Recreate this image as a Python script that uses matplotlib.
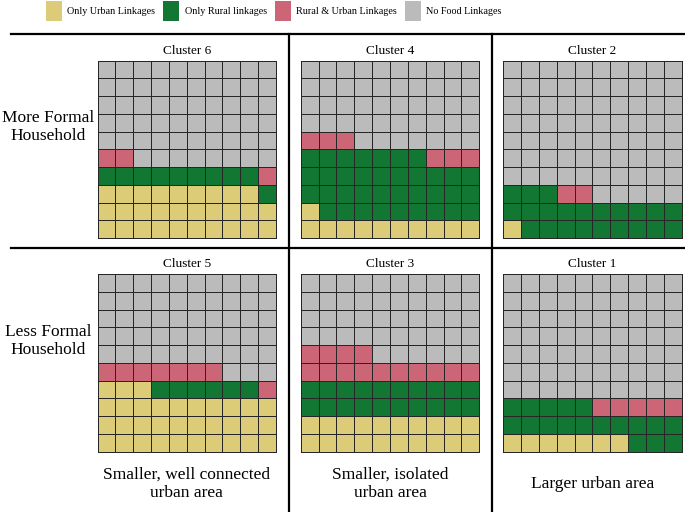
import numpy as np
import matplotlib.pyplot as plt
from matplotlib.colors import ListedColormap
from matplotlib.patches import Patch
from matplotlib.lines import Line2D

plt.rcParams['font.family'] = ['Liberation Serif', 'DejaVu Serif']

# legend categories and their colours
categories = ['Only Urban Linkages', 'Only Rural linkages',
              'Rural & Urban Linkages', 'No Food Linkages']
colors = ['#DDCC77', '#117733', '#CC6677', '#BBBBBB']

# cells (out of 100) per cluster, top row then bottom row
clusters = ['Cluster 6', 'Cluster 4', 'Cluster 2',
            'Cluster 5', 'Cluster 3', 'Cluster 1']
urban = [29, 11, 1, 33, 20, 7]
rural = [10, 36, 22, 6, 20, 18]
both = [3, 6, 2, 8, 14, 5]
no_link = [58, 47, 75, 53, 46, 70]

row_labels = ['More Formal\nHousehold', 'Less Formal\nHousehold']
area_labels = ['Smaller, well connected\nurban area',
               'Smaller, isolated\nurban area',
               'Larger urban area']

W, H = 685, 512
fig = plt.figure(figsize=(W / 100, H / 100), dpi=100)


def box(x0, y0, w, h):
    # pixel box (top-left origin) -> figure fraction
    return [x0 / W, 1 - (y0 + h) / H, w / W, h / H]


col_x = [97.5, 300.7, 503.2]
row_y = [60.7, 274.0]
gw, gh = 178.5, 177.5
cmap = ListedColormap(colors)

for i, name in enumerate(clusters):
    r, c = divmod(i, 3)
    ax = fig.add_axes(box(col_x[c], row_y[r], gw, gh))
    counts = [urban[i], rural[i], both[i], no_link[i]]
    cells = np.repeat(np.arange(4), counts).reshape(10, 10)
    mesh = ax.pcolormesh(cells, cmap=cmap, vmin=-0.5, vmax=3.5,
                         edgecolors='#262626', linewidth=0.7)
    mesh.set_clip_on(False)
    ax.set_xlim(0, 10)
    ax.set_ylim(0, 10)
    ax.axis('off')
    ax.set_title(name, fontsize=9.5, pad=5)

# row labels
for r, lab in enumerate(row_labels):
    fig.text(48 / W, 1 - (127 + r * 214) / H, lab, ha='center', va='center',
             fontsize=12.5, linespacing=1.15)

# column labels at the bottom
for c, lab in enumerate(area_labels):
    fig.text((col_x[c] + gw / 2) / W, 1 - 484 / H, lab, ha='center',
             va='center', fontsize=12.5, linespacing=1.15)

# separating lines
lk = dict(color='black', linewidth=1.6, transform=fig.transFigure)
fig.add_artist(Line2D([11 / W, 1], [1 - 34 / H] * 2, **lk))
fig.add_artist(Line2D([11 / W, 1], [1 - 248 / H] * 2, **lk))
fig.add_artist(Line2D([288.5 / W] * 2, [1 - 34 / H, 0], **lk))
fig.add_artist(Line2D([492.5 / W] * 2, [1 - 34 / H, 0], **lk))

handles = [Patch(facecolor=col, edgecolor='none') for col in colors]
fig.legend(handles, categories, loc='upper left',
           bbox_to_anchor=(46 / W, 1 - 1 / H), ncol=4, frameon=False,
           fontsize=7.3, handlelength=1.55, handleheight=2.7,
           handletextpad=0.55, columnspacing=0.8, borderpad=0,
           borderaxespad=0)

fig.savefig('out.png', dpi=100)
